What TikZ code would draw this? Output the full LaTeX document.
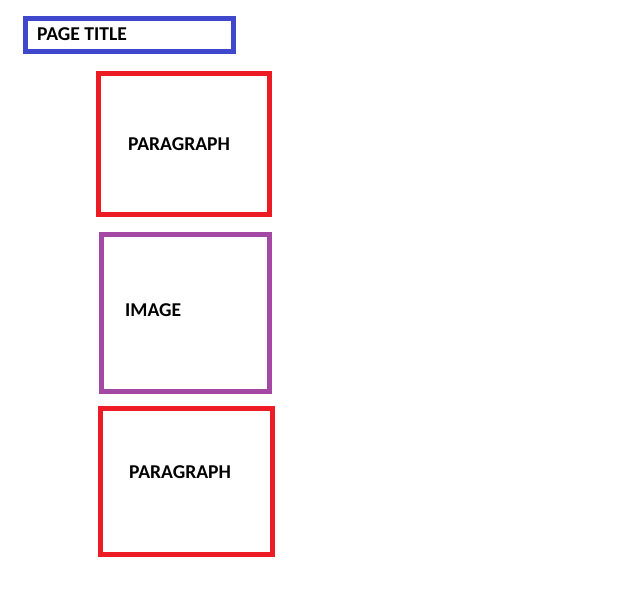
\documentclass[tikz,border=0pt]{standalone}
\usepackage{fontspec}
\setmainfont{Carlito}
\usepackage{tikz}

\definecolor{titleblue}{HTML}{3F48CC}
\definecolor{boxred}{HTML}{ED1C24}
\definecolor{boxpurple}{HTML}{A349A4}

\begin{document}
\begin{tikzpicture}[x=1pt,y=-1pt]
        \useasboundingbox (0,0) rectangle (619,615);
        \begin{scope}[every node/.style={rectangle,draw,line width=5pt,inner sep=0pt}]
            \node[draw=titleblue,minimum width=208pt,minimum height=33pt] (titlebox) at (129.5,35) {};
            \node[draw=boxred,minimum width=171pt,minimum height=141pt] (parabox1) at (184,144) {};
            \node[draw=boxpurple,minimum width=168pt,minimum height=157pt] (imagebox) at (185.5,313) {};
            \node[draw=boxred,minimum width=172pt,minimum height=146pt] (parabox2) at (186.5,481.5) {};
        \end{scope}
        \begin{scope}[every node/.style={anchor=west,inner sep=0pt,font=\fontsize{19.6}{22}\selectfont\bfseries}]
            \node (title) at (37,34) {PAGE TITLE};
            \node (para1) at (128,144) {PARAGRAPH};
            \node (image) at (125,310) {IMAGE};
            \node (para2) at (129,472) {PARAGRAPH};
        \end{scope}
    \end{tikzpicture}
\end{document}
